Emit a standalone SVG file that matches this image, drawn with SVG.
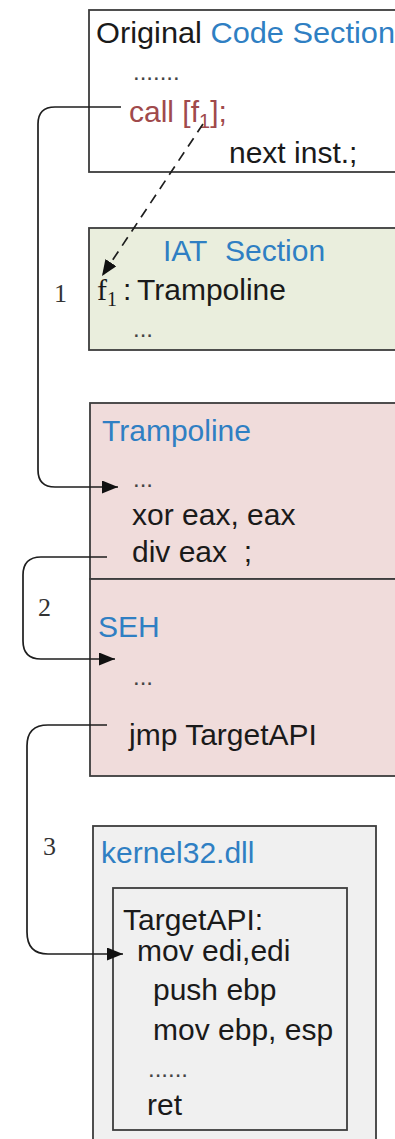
<svg xmlns="http://www.w3.org/2000/svg" width="395" height="1139" viewBox="0 0 395 1139">
  <style>
    .t { font-family: "Liberation Sans", Arial, sans-serif; font-size: 30px; fill: #1a1a1a; }
    .blue { fill: #2f7fc3; }
    .red { fill: #a04a4c; }
    .dots { font-size: 24px; fill: #444; }
    .num { font-family: "Liberation Serif", "Times New Roman", serif; font-size: 26px; fill: #333; }
    .serif { font-family: "Liberation Serif", "Times New Roman", serif; }
    .box { stroke: #3c3c3c; stroke-width: 1.8; }
    .wire { fill: none; stroke: #1e1e1e; stroke-width: 1.7; }
  </style>
  <defs>
    <marker id="arrow" markerWidth="16" markerHeight="13" refX="16" refY="6.5" orient="auto" markerUnits="userSpaceOnUse">
      <path d="M0,0 L16,6.5 L0,13 Z" fill="#111"/>
    </marker>
  </defs>

  <rect width="395" height="1139" fill="#ffffff"/>

  <!-- original code section -->
  <g id="original-code">
    <rect class="box" x="89" y="10" width="330" height="162" fill="#ffffff"/>
    <text class="t" x="96" y="43" textLength="299" lengthAdjust="spacingAndGlyphs">Original <tspan class="blue">Code Section</tspan></text>
    <text class="t dots" x="133" y="80">.......</text>
    <text class="t red" x="129" y="122">call [f<tspan font-size="20" dy="6">1</tspan><tspan dy="-6">];</tspan></text>
    <text class="t" x="229" y="163">next inst.;</text>
  </g>

  <!-- import address table -->
  <g id="iat-section">
    <rect class="box" x="89" y="228" width="330" height="122" fill="#eaeedd"/>
    <text class="t blue" x="163" y="261">IAT<tspan x="225">Section</tspan></text>
    <text class="t" x="97" y="300"><tspan class="serif">f</tspan><tspan class="serif" font-size="20" dy="6">1</tspan><tspan x="123" dy="-6">:</tspan><tspan x="137">Trampoline</tspan></text>
    <text class="t dots" x="133" y="337">...</text>
  </g>

  <!-- trampoline + SEH -->
  <g id="trampoline">
    <rect class="box" x="90" y="403" width="330" height="176" fill="#f0dcdb"/>
    <text class="t blue" x="102" y="441">Trampoline</text>
    <text class="t dots" x="133" y="487">...</text>
    <text class="t" x="132" y="525">xor eax, eax</text>
    <text class="t" x="132" y="562" xml:space="preserve">div eax  ;</text>
  </g>

  <g id="seh">
    <rect class="box" x="90" y="579" width="330" height="197" fill="#f0dcdb"/>
    <text class="t blue" x="98" y="637">SEH</text>
    <text class="t dots" x="133" y="685">...</text>
    <text class="t" x="129" y="745">jmp TargetAPI</text>
  </g>

  <!-- kernel32.dll -->
  <g id="kernel32">
    <rect class="box" x="93" y="826" width="283" height="330" fill="#f0f0f0"/>
    <text class="t blue" x="101" y="863">kernel32.dll</text>
  </g>

  <g id="target-api">
    <rect class="box" x="113" y="888" width="234" height="242" fill="#f0f0f0"/>
    <text class="t" x="123" y="930">TargetAPI:</text>
    <text class="t" x="137" y="961">mov edi,edi</text>
    <text class="t" x="153" y="1000">push ebp</text>
    <text class="t" x="153" y="1040">mov ebp, esp</text>
    <text class="t dots" x="148" y="1077">......</text>
    <text class="t" x="147" y="1115">ret</text>
  </g>

  <!-- control-flow connectors -->
  <g id="connectors">
    <path class="wire" d="M121,107 H55 Q38,107 38,124 V470 Q38,487 55,487 H118" marker-end="url(#arrow)"/>
    <path class="wire" d="M203,124 L102,276" stroke-dasharray="10,7" marker-end="url(#arrow)"/>
    <path class="wire" d="M107,557 H41 Q23,557 23,575 V641 Q23,659 41,659 H115" marker-end="url(#arrow)"/>
    <path class="wire" d="M107,725 H48 Q27,725 27,746 V932 Q27,954 48,954 H123" marker-end="url(#arrow)"/>
  </g>

  <g id="step-labels">
    <text class="num" x="54" y="302">1</text>
    <text class="num" x="38" y="616">2</text>
    <text class="num" x="43" y="855">3</text>
  </g>
</svg>
